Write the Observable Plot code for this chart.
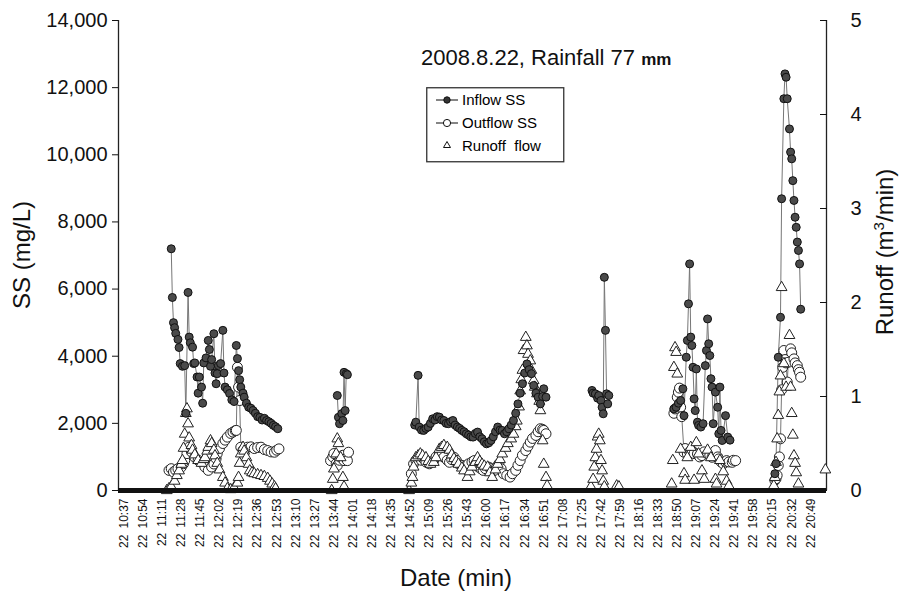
<!DOCTYPE html>
<html><head><meta charset="utf-8">
<script src="https://cdn.jsdelivr.net/npm/d3@7"></script>
<script src="https://cdn.jsdelivr.net/npm/@observablehq/plot@0.6"></script>
<style>
body{margin:0;background:#fff;}
#wrap{position:relative;width:899px;height:594px;font-family:"Liberation Sans",Arial,sans-serif;color:#111;}
.lab{position:absolute;white-space:nowrap;transform-origin:center;}
</style></head><body><div id="wrap"></div>
<script>
// ---- data (time of day on 2008-08-22, value) ----
const xTickLabels = ["22 10:37","22 10:54","22 11:11","22 11:28","22 11:45","22 12:02","22 12:19","22 12:36","22 12:53","22 13:10","22 13:27","22 13:44","22 14:01","22 14:18","22 14:35","22 14:52","22 15:09","22 15:26","22 15:43","22 16:00","22 16:17","22 16:34","22 16:51","22 17:08","22 17:25","22 17:42","22 17:59","22 18:16","22 18:33","22 18:50","22 19:07","22 19:24","22 19:41","22 19:58","22 20:15","22 20:32","22 20:49"];
const ssTicks = [0,2000,4000,6000,8000,10000,12000,14000];
const runoffTicks = [0,1,2,3,4,5];
const xDomain = ["10:32","21:03"];

const inflowSS = [
["11:19",7200],["11:20",5750],["11:21",5000],["11:22",4850],["11:23",4680],["11:25",4500],["11:26",4260],["11:27",3780],["11:29",3700],["11:31",3720],["11:32",2300],["11:34",5900],["11:35",4570],["11:36",4400],["11:38",4270],["11:39",3780],["11:40",3800],["11:42",3380],["11:43",2900],["11:44",3380],["11:46",3080],["11:47",2600],["11:48",3800],["11:50",3950],["11:52",4470],["11:53",4200],["11:54",3700],["11:55",3900],["11:57",4670],["11:58",3500],["11:59",3180],["12:00",3480],["12:01",3720],["12:03",3780],["12:05",4770],["12:06",3500],["12:07",3080],["12:09",3000],["12:11",2890],["12:13",2700],["12:15",2650],["12:17",4320],["12:18",3930],["12:19",3570],["12:20",3300],["12:21",3080],["12:23",2900],["12:24",2780],["12:26",2600],["12:28",2480],["12:30",2450],["12:32",2380],["12:34",2300],["12:36",2200],["12:38",2180],["12:40",2100],["12:42",2150],["12:44",2085],["12:46",2050],["12:48",2000],["12:50",1940],["12:52",1900],["12:54",1840],
["13:47",2830],["13:48",2180],["13:49",1990],["13:51",2290],["13:52",2085],["13:53",3520],["13:54",2380],["13:55",3480],["13:56",3450],
["14:56",1950],["14:57",2035],["14:59",3430],["15:00",1890],["15:02",1800],["15:04",1790],["15:06",1850],["15:08",1890],["15:10",2000],["15:12",2135],["15:14",2100],["15:16",2200],["15:18",2185],["15:20",2100],["15:22",2085],["15:24",2000],["15:26",1990],["15:28",2050],["15:30",2085],["15:32",1950],["15:34",1890],["15:36",1850],["15:38",1790],["15:40",1750],["15:42",1690],["15:44",1650],["15:46",1600],["15:48",1590],["15:50",1700],["15:52",1740],["15:54",1600],["15:56",1540],["15:58",1450],["16:00",1390],["16:02",1420],["16:04",1490],["16:06",1600],["16:08",1750],["16:10",1890],["16:12",1800],["16:14",1790],["16:16",1690],["16:18",1750],["16:20",1840],["16:22",1950],["16:24",2085],["16:26",2300],["16:28",2580],["16:30",2900],["16:32",3180],["16:34",3500],["16:36",3770],["16:38",3600],["16:40",3480],["16:42",3130],["16:44",2900],["16:46",2780],["16:48",2580],["16:50",2800],["16:51",3030],["16:53",2780],
["17:34",2980],["17:35",2900],["17:37",2880],["17:39",2750],["17:40",2830],["17:42",2680],["17:43",2480],["17:44",2285],["17:45",6350],["17:46",4770],["17:47",2880],["17:48",2580],["17:49",2830],
["18:47",2430],["18:49",2480],["18:51",2600],["18:53",2680],["18:55",3030],["18:56",2230],["18:58",3970],["18:59",4470],["19:00",5560],["19:01",6750],["19:02",4570],["19:03",4320],["19:04",3670],["19:05",2730],["19:06",2380],["19:07",3620],["19:08",2035],["19:09",1940],["19:11",1890],["19:13",1990],["19:15",3720],["19:16",4170],["19:17",5110],["19:18",4370],["19:19",4020],["19:20",3330],["19:21",3080],["19:22",1990],["19:24",2930],["19:26",2480],["19:27",1690],["19:28",3080],["19:29",1790],["19:30",1490],["19:33",2230],["19:35",1590],["19:37",1500],
["20:17",500],["20:18",800],["20:20",3970],["20:22",5160],["20:23",8690],["20:25",11670],["20:26",12410],["20:27",12310],["20:28",11670],["20:30",10770],["20:31",10080],["20:32",9880],["20:33",9230],["20:34",8640],["20:35",8140],["20:36",7840],["20:37",7400],["20:38",7150],["20:39",6750],["20:40",5400]
];

const outflowSS = [
["11:17",600],["11:19",650],["11:21",550],["11:23",600],["11:25",650],["11:28",700],["11:30",800],["11:31",890],["11:33",1100],["11:35",1290],["11:37",1150],["11:40",990],["11:43",900],["11:46",840],["11:49",700],["11:52",600],["11:55",700],["11:57",790],["11:59",950],["12:00",1100],["12:02",1250],["12:05",1400],["12:07",1500],["12:09",1590],["12:12",1700],["12:14",1740],["12:16",1780],["12:17",1790],["12:18",3670],["12:19",3080],["12:20",2680],["12:21",1290],["12:23",1200],["12:25",1250],["12:27",1290],["12:30",1300],["12:33",1250],["12:36",1280],["12:39",1290],["12:42",1220],["12:45",1190],["12:48",1150],["12:51",1140],["12:53",1200],["12:55",1240],
["13:41",890],["13:43",1000],["13:44",1100],["13:46",800],["13:47",745],["13:49",900],["13:50",990],["13:52",1050],["13:53",890],["13:55",950],["13:56",890],["13:57",1140],
["14:53",500],["14:55",795],["14:57",900],["15:00",990],["15:02",900],["15:04",940],["15:06",850],["15:09",795],["15:11",850],["15:13",890],["15:15",1000],["15:18",1090],["15:20",1050],["15:22",990],["15:25",900],["15:27",840],["15:29",920],["15:31",990],["15:33",900],["15:35",795],["15:38",750],["15:40",695],["15:42",750],["15:44",795],["15:47",850],["15:49",890],["15:51",800],["15:53",695],["15:55",650],["15:57",600],["15:59",650],["16:02",695],["16:04",650],["16:07",600],["16:09",700],["16:11",795],["16:13",650],["16:15",500],["16:18",450],["16:21",400],["16:23",500],["16:26",600],["16:28",750],["16:30",890],["16:32",1050],["16:35",1190],["16:37",1320],["16:39",1440],["16:41",1550],["16:44",1640],["16:46",1750],["16:48",1840],["16:50",1820],["16:51",1790],["16:53",1690],
["18:47",2300],["18:48",2430],["18:50",2780],["18:51",2930],["18:52",3050],["18:53",2480],["18:54",2200],["18:56",1140],["18:57",1250],["18:59",1090],["19:01",1150],["19:03",1190],["19:05",1100],["19:08",1090],["19:10",1000],["19:12",1040],["19:14",1150],["19:17",1090],["19:19",1050],["19:21",990],["19:23",1100],["19:24",1190],["19:26",1000],["19:27",940],["19:29",850],["19:31",795],["19:33",850],["19:34",890],["19:36",850],["19:39",840],["19:40",900],["19:42",890],
["20:17",300],["20:18",350],["20:19",450],["20:20",745],["20:21",1000],["20:22",1540],["20:23",3000],["20:24",3670],["20:25",4170],["20:26",3900],["20:27",3800],["20:28",3230],["20:29",3820],["20:31",4220],["20:32",4100],["20:34",3920],["20:35",3800],["20:37",3720],["20:38",3600],["20:39",3520],["20:40",3375]
];

const runoffFlow = [
["11:15",0.0],["11:17",0.02],["11:19",0.04],["11:22",0.1],["11:24",0.16],["11:26",0.21],["11:28",0.28],["11:29",0.32],["11:30",0.45],["11:31",0.6],["11:32",0.82],["11:33",0.87],["11:34",0.71],["11:35",0.56],["11:37",0.48],["11:38",0.43],["11:40",0.38],["11:43",0.32],["11:46",0.29],["11:48",0.33],["11:49",0.35],["11:51",0.42],["11:52",0.46],["11:54",0.53],["11:55",0.5],["11:57",0.43],["11:58",0.37],["12:00",0.29],["12:02",0.22],["12:05",0.14],["12:07",0.08],["12:09",0.02],["12:12",0.01],["12:15",0.03],["12:18",0.08],["12:19",0.14],["12:20",0.29],["12:21",0.39],["12:23",0.46],["12:24",0.42],["12:26",0.35],["12:28",0.28],["12:29",0.21],["12:31",0.19],["12:33",0.18],["12:36",0.17],["12:39",0.16],["12:42",0.15],["12:45",0.13],["12:47",0.1],["12:49",0.07],["12:51",0.04],["12:52",0.02],
["13:42",0.0],["13:43",0.12],["13:44",0.23],["13:46",0.39],["13:47",0.55],["13:48",0.5],["13:50",0.35],["13:52",0.14],["13:53",0.04],
["14:51",0.0],["14:53",0.08],["14:54",0.14],["14:55",0.25],["14:57",0.35],["14:59",0.37],["15:01",0.39],["15:03",0.37],["15:06",0.35],["15:08",0.31],["15:10",0.28],["15:13",0.3],["15:15",0.35],["15:18",0.44],["15:20",0.46],["15:22",0.48],["15:25",0.46],["15:27",0.43],["15:29",0.38],["15:31",0.34],["15:33",0.31],["15:35",0.28],["15:38",0.24],["15:40",0.21],["15:43",0.14],["15:45",0.2],["15:47",0.25],["15:50",0.3],["15:52",0.35],["15:54",0.31],["15:56",0.28],["15:58",0.26],["16:01",0.25],["16:03",0.19],["16:05",0.14],["16:08",0.22],["16:10",0.28],["16:12",0.33],["16:14",0.39],["16:17",0.45],["16:19",0.5],["16:22",0.55],["16:24",0.6],["16:26",0.68],["16:27",0.74],["16:29",0.89],["16:30",1.06],["16:31",1.18],["16:32",1.28],["16:33",1.49],["16:35",1.63],["16:36",1.54],["16:37",1.45],["16:39",1.38],["16:40",1.28],["16:42",1.17],["16:43",1.1],["16:45",1.03],["16:47",0.95],["16:48",0.85],["16:50",0.53],["16:51",0.28],["16:53",0.14],["16:54",0.05],
["17:33",0.04],["17:35",0.12],["17:36",0.25],["17:37",0.35],["17:38",0.44],["17:39",0.57],["17:40",0.6],["17:41",0.53],["17:42",0.32],["17:43",0.21],["17:44",0.1],["17:45",0.04],["17:56",0.05],["17:58",0.04],
["18:45",0.07],["18:46",0.32],["18:47",1.31],["18:48",1.52],["18:49",1.47],["18:50",1.24],["18:53",0.44],["18:56",0.18],["18:57",0.11],["18:59",0.35],["19:02",0.46],["19:05",0.11],["19:07",0.51],["19:09",0.39],["19:12",0.21],["19:14",0.12],["19:17",0.43],["19:20",0.35],["19:24",0.12],["19:25",0.07],["19:28",0.32],["19:31",0.2],["19:34",0.1],["19:36",0.05],
["20:16",0.05],["20:17",0.14],["20:18",0.3],["20:19",0.55],["20:20",0.8],["20:21",1.05],["20:22",1.22],["20:23",2.16],["20:25",1.35],["20:27",1.1],["20:30",1.65],["20:31",1.1],["20:32",0.82],["20:33",0.59],["20:34",0.37],["20:35",0.29],["20:36",0.19],["20:38",0.07],["21:02",0.22]
];

// ---- build ----
const toMin = s => { const [h, m] = s.split(":").map(Number); return h * 60 + m; };
function withEvents(arr) {
  let ev = 0, prev = null;
  return arr.map(([t, v]) => {
    const m = toMin(t);
    if (prev !== null && m - prev > 10) ev++;
    prev = m;
    return {t: m, v, ev};
  });
}
const inflow = withEvents(inflowSS);
const outflow = withEvents(outflowSS);
const runoff = runoffFlow.map(([t, v]) => ({t: toMin(t), v}));
const SCALE = 14000 / 5; // runoff -> SS axis
const tickTimes = xTickLabels.map(l => toMin(l.split(" ")[1]));
const labelOf = new Map(tickTimes.map((t, i) => [t, xTickLabels[i].replace(" ", "\u2002")]));
const dom = xDomain.map(toMin);

const chart = Plot.plot({
  width: 899, height: 594,
  marginLeft: 118, marginRight: 73, marginTop: 20, marginBottom: 104,
  style: {fontFamily: "Liberation Sans, Arial, sans-serif", color: "#111", background: "white"},
  x: {type: "linear", domain: dom},
  y: {domain: [0, 14000]},
  marks: [
    Plot.ruleX(dom, {stroke: "#222", strokeWidth: 1.3}),
    Plot.line(outflow, {x: "t", y: "v", z: "ev", stroke: "#777", strokeWidth: 1}),
    Plot.line(inflow, {x: "t", y: "v", z: "ev", stroke: "#777", strokeWidth: 1}),
    Plot.dot(outflow, {x: "t", y: "v", r: 5, fill: "white", stroke: "#222", strokeWidth: 1}),
    Plot.dot(runoff, {x: "t", y: d => d.v * SCALE, symbol: "triangle", r: 4, fill: "white", stroke: "#222", strokeWidth: 1}),
    Plot.dot(inflow, {x: "t", y: "v", r: 4, fill: "#4a4a4a", stroke: "#111", strokeWidth: 1}),
    Plot.ruleY([0], {stroke: "#111", strokeWidth: 5}),
    Plot.axisX({ticks: tickTimes, tickFormat: d => labelOf.get(d), tickRotate: -90, tickSize: 0, tickPadding: 8, fontSize: 12, label: null}),
    Plot.axisY({anchor: "left", ticks: ssTicks, tickFormat: d3.format(","), tickSize: 6, tickPadding: 5, fontSize: 20, label: null}),
    Plot.axisY({anchor: "right", ticks: runoffTicks.map(r => r * SCALE), tickFormat: d => d3.format("d")(Math.round(d / SCALE)), tickSize: -7, tickPadding: 31, fontSize: 20, label: null})
  ]
});
const wrap = document.getElementById("wrap");
wrap.appendChild(chart);

function addLabel(html, css) {
  const d = document.createElement("div");
  d.className = "lab"; d.innerHTML = html; Object.assign(d.style, css);
  wrap.appendChild(d);
}
addLabel("SS (mg/L)", {left: "22px", top: "255px", fontSize: "24px", transform: "translate(-50%,-50%) rotate(-90deg)"});
addLabel("Runoff (m<sup style='font-size:15px'>3</sup>/min)", {left: "884px", top: "252px", fontSize: "24px", transform: "translate(-50%,-50%) rotate(-90deg)"});
addLabel("Date (min)", {left: "456px", top: "578px", fontSize: "24px", transform: "translate(-50%,-50%)"});
addLabel("2008.8.22, Rainfall 77 <span style='font-size:17px;font-weight:bold'>mm</span>", {left: "421px", top: "45px", fontSize: "22px"});

// legend
const leg = `
<svg width="140" height="78" style="position:absolute;left:426px;top:87px;font-family:Liberation Sans,Arial,sans-serif">
<rect x="0.75" y="0.75" width="137" height="74" fill="white" stroke="#333" stroke-width="1.3"/>
<line x1="10" x2="32" y1="13" y2="13" stroke="#333" stroke-width="1.2"/><circle cx="21" cy="13" r="3.2" fill="#333" stroke="#111"/>
<text x="36" y="18" font-size="15">Inflow SS</text>
<line x1="10" x2="32" y1="36" y2="36" stroke="#333" stroke-width="1.2"/><circle cx="21" cy="36" r="3.6" fill="white" stroke="#111"/>
<text x="36" y="41" font-size="15">Outflow SS</text>
<path d="M21,54.5 L24.5,60.5 L17.5,60.5 Z" fill="white" stroke="#111"/>
<text x="36" y="64" font-size="15">Runoff&#160; flow</text>
</svg>`;
wrap.insertAdjacentHTML("beforeend", leg);
</script></body></html>
